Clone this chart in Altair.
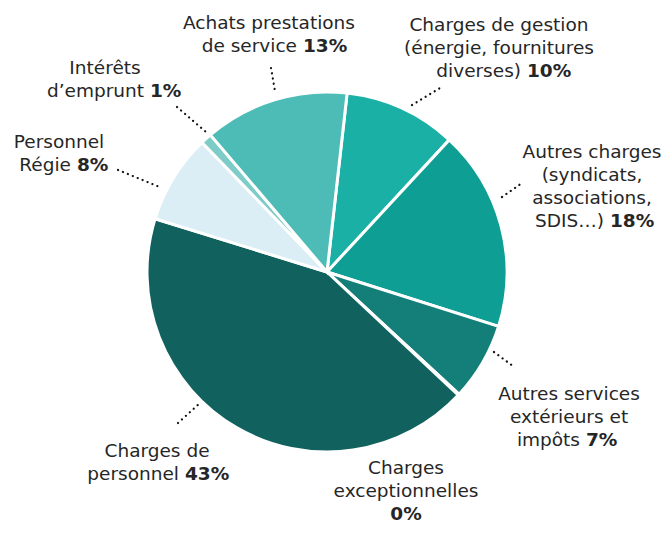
import altair as alt
import pandas as pd

# ---------------- data ----------------
categories = [
    "Charges de gestion (énergie, fournitures diverses)",
    "Autres charges (syndicats, associations, SDIS…)",
    "Autres services extérieurs et impôts",
    "Charges exceptionnelles",
    "Charges de personnel",
    "Personnel Régie",
    "Intérêts d’emprunt",
    "Achats prestations de service",
]
values = [10.1, 18.0, 7.0, 0.1, 42.8, 8.0, 1.0, 13.0]
pct_labels = ["10%", "18%", "7%", "0%", "43%", "8%", "1%", "13%"]
label_lines = [
    ["Charges de gestion", "(énergie, fournitures", "diverses)"],
    ["Autres charges", "(syndicats,", "associations,", "SDIS…)"],
    ["Autres services", "extérieurs et", "impôts"],
    ["Charges", "exceptionnelles", ""],
    ["Charges de", "personnel"],
    ["Personnel", "Régie"],
    ["Intérêts", "d’emprunt"],
    ["Achats prestations", "de service"],
]

# ---------------- styles ----------------
colors = ["#1AB0A5", "#0F9E94", "#147F79", "#0E5F5B", "#11625F",
          "#DCEEF5", "#7ECCC8", "#4DBCB6"]
FONT = "DejaVu Sans"
FS = 18.5
LH = 23
TEXT_COLOR = "#262626"
W, H = 654, 517
CX, CY, R = 319, 264, 180          # pie centre / radius (view px)
START = 0.112                       # start angle (rad)

# label layout (page px): centre of upper lines, first baseline,
# x where bold percentage starts, connector (x1, y1, x2, y2)
layout = [
    (499, 31, 527, (412, 105, 440, 88)),
    (592, 158, 610, (502, 197, 522, 183)),
    (569, 400, 586, (494, 352, 513, 366)),
    (406, 474, None, None),
    (157, 457, 185, (178, 423, 200, 403)),
    (59, 148, 77, (118, 170, 162, 188)),
    (105, 74, 150, (177, 107, 206, 132)),
    (269, 29, 303, (271, 68, 275, 91)),
]

pie_df = pd.DataFrame({"cat": categories, "value": values,
                       "idx": list(range(len(categories)))})

center_rows, right_rows, left_rows, conn_rows = [], [], [], []
for lines, pct, (cx, base, split, conn) in zip(label_lines, pct_labels, layout):
    for i, ln in enumerate(lines[:-1]):
        center_rows.append({"t": ln, "x": cx, "y": base + i * LH, "b": False})
    ylast = base + (len(lines) - 1) * LH
    if lines[-1]:
        right_rows.append({"t": lines[-1], "x": split - 6, "y": ylast})
        left_rows.append({"t": pct, "x": split, "y": ylast})
    else:
        center_rows.append({"t": pct, "x": cx, "y": ylast, "b": True})
    if conn:
        conn_rows.append({"x1": conn[0], "y1": conn[1], "x2": conn[2], "y2": conn[3]})

center_df = pd.DataFrame(center_rows)
right_df = pd.DataFrame(right_rows)
left_df = pd.DataFrame(left_rows)
conn_df = pd.DataFrame(conn_rows)

xs = alt.Scale(domain=[8, 8 + W], range=[0, W])
ys = alt.Scale(domain=[8, 8 + H], range=[0, H])

pie = alt.Chart(pie_df).mark_arc(outerRadius=R, stroke="white", strokeWidth=3).encode(
    theta=alt.Theta("value:Q", stack=True,
                    scale=alt.Scale(range=[START, START + 6.283185307])),
    color=alt.Color("cat:N", scale=alt.Scale(domain=categories, range=colors), legend=None),
    order=alt.Order("idx:Q"),
    x=alt.value(CX), y=alt.value(CY),
)

conn = alt.Chart(conn_df).mark_rule(
    color="#111111", strokeWidth=2.2, strokeDash=[0.1, 5.2], strokeCap="round"
).encode(
    x=alt.X("x1:Q", scale=xs, axis=None), y=alt.Y("y1:Q", scale=ys, axis=None),
    x2="x2:Q", y2="y2:Q",
)

def text_layer(df, align, weight):
    return alt.Chart(df).mark_text(
        align=align, baseline="alphabetic", font=FONT, fontSize=FS,
        fontWeight=weight, color=TEXT_COLOR
    ).encode(
        x=alt.X("x:Q", scale=xs, axis=None), y=alt.Y("y:Q", scale=ys, axis=None),
        text="t:N",
    )

center_norm = text_layer(center_df[~center_df["b"]], "center", "normal")
center_bold = text_layer(center_df[center_df["b"]], "center", "bold")
right_norm = text_layer(right_df, "right", "normal")
left_bold = text_layer(left_df, "left", "bold")

chart = alt.layer(pie, conn, center_norm, center_bold, right_norm, left_bold).properties(
    width=W, height=H, padding=0, autosize=alt.AutoSizeParams(type="none"),
).configure_view(stroke=None)

chart.save("out.html", embed_options={"renderer": "svg", "actions": False})
